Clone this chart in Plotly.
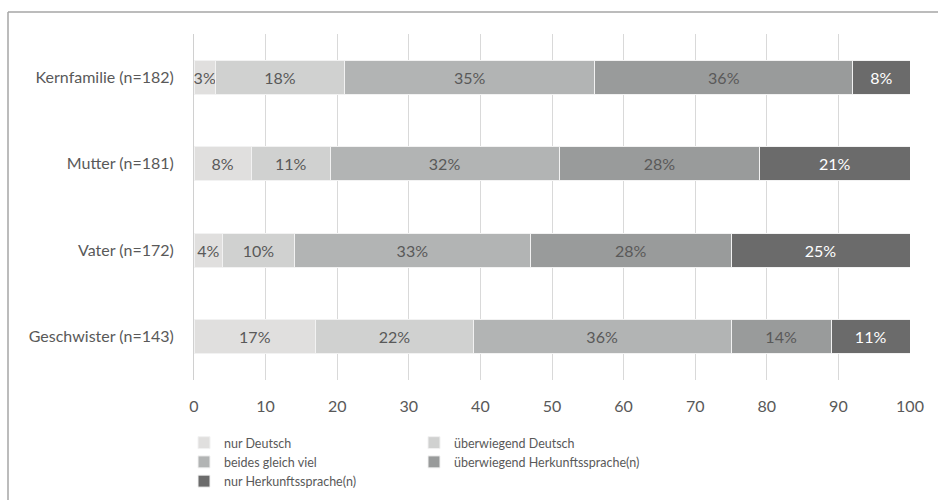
import plotly.graph_objects as go

# Categories (top to bottom) and language-use shares in percent
groups = ["Kernfamilie (n=182)", "Mutter (n=181)", "Vater (n=172)", "Geschwister (n=143)"]
series_names = [
    "nur Deutsch",
    "überwiegend Deutsch",
    "beides gleich viel",
    "überwiegend Herkunftssprache(n)",
    "nur Herkunftssprache(n)",
]
nur_deutsch = [3, 8, 4, 17]
ueberwiegend_deutsch = [18, 11, 10, 22]
beides = [35, 32, 33, 36]
ueberwiegend_herkunft = [36, 28, 28, 14]
nur_herkunft = [8, 21, 25, 11]

x_ticks = [0, 10, 20, 30, 40, 50, 60, 70, 80, 90, 100]

series_values = [nur_deutsch, ueberwiegend_deutsch, beides, ueberwiegend_herkunft, nur_herkunft]
colors = ["#e0dfde", "#d0d1d0", "#b2b4b4", "#999b9b", "#6b6b6b"]
text_colors = ["#595959", "#595959", "#595959", "#595959", "#ffffff"]
# left legend column holds series 0, 2, 4; right column holds 1, 3
legend_ids = ["legend", "legend2", "legend", "legend2", "legend"]

FONT = "Lato"
GRAY = "#595959"

fig = go.Figure()
for name, vals, col, tcol, lg in zip(series_names, series_values, colors, text_colors, legend_ids):
    fig.add_trace(go.Bar(
        y=groups,
        x=vals,
        name=name,
        orientation="h",
        marker=dict(color=col, line=dict(color="#f2f2f2", width=1)),
        text=[f"{v}%" for v in vals],
        textposition="inside",
        insidetextanchor="middle",
        textangle=0,
        textfont=dict(family=FONT, size=16, color=tcol),
        legend=lg,
        hoverinfo="skip",
    ))

W, H = 938, 500
L, R, T, B = 194, 28, 34, 120
pw, ph = W - L - R, H - T - B


def px_x(p):
    return (p - L) / pw


def px_y(p):
    return 1 - (p - T) / ph


legend_style = dict(
    xanchor="left", yanchor="top",
    orientation="v", traceorder="normal",
    font=dict(family=FONT, size=12.5, color=GRAY),
    bgcolor="rgba(0,0,0,0)", itemclick=False, itemdoubleclick=False,
    tracegroupgap=0,
)

fig.update_layout(
    width=W,
    height=H,
    margin=dict(l=L, r=R, t=T, b=B, autoexpand=False),
    barmode="stack",
    bargap=0.61,
    paper_bgcolor="white",
    plot_bgcolor="white",
    font=dict(family=FONT, size=16, color=GRAY),
    uniformtext=dict(minsize=16, mode="show"),
    xaxis=dict(
        range=[0, 100],
        tickvals=x_ticks,
        showgrid=True,
        gridcolor="#d9d9d9",
        gridwidth=1,
        zeroline=False,
        showline=False,
        ticks="",
        ticklabelstandoff=15,
        tickfont=dict(family=FONT, size=16, color=GRAY),
        fixedrange=True,
    ),
    yaxis=dict(
        categoryorder="array",
        categoryarray=groups[::-1],
        showgrid=False,
        zeroline=False,
        showline=True,
        linecolor="#d0d0d0",
        linewidth=1,
        ticks="",
        ticklabelstandoff=16,
        tickfont=dict(family=FONT, size=16, color=GRAY),
        fixedrange=True,
    ),
    legend=dict(x=px_x(184), y=px_y(428), **legend_style),
    legend2=dict(x=px_x(414), y=px_y(428), **legend_style),
    shapes=[
        # frame edges: left and top, running off the page to the right and bottom
        dict(type="line", xref="paper", yref="paper",
             x0=px_x(8), x1=px_x(8), y0=px_y(520), y1=px_y(12),
             line=dict(color="#a6a6a6", width=1.5), layer="below"),
        dict(type="line", xref="paper", yref="paper",
             x0=px_x(8), x1=px_x(960), y0=px_y(12), y1=px_y(12),
             line=dict(color="#a6a6a6", width=1.5), layer="below"),
    ],
)

fig.write_html("out.html")
